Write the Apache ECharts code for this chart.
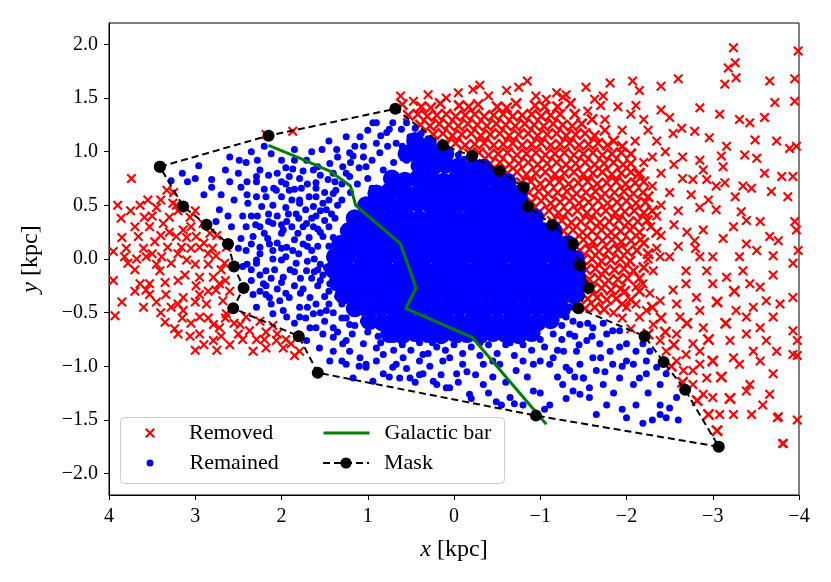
<!DOCTYPE html>
<html>
<head>
<meta charset="utf-8">
<script src="https://cdn.jsdelivr.net/npm/echarts@6.0.0/dist/echarts.min.js"></script>
<style>
  html, body { margin: 0; padding: 0; background: #fff; }
  #chart { width: 831px; height: 582px; }
</style>
</head>
<body>
<div id="chart"></div>
<script>
// axis ticks
var yTicks = [-2.0, -1.5, -1.0, -0.5, 0.0, 0.5, 1.0, 1.5, 2.0];

// remained stars, dense inner part (kpc)
var remainedCore = [
  [0.55,0.98],[0.40,0.99],[0.25,0.97],[0.10,0.98],[0.45,1.10],[0.30,1.05],
  [0.40,0.87],[0.25,0.85],[0.10,0.88],[-0.05,0.86],[-0.20,0.84],[-0.34,0.85],
  [0.72,0.75],[0.57,0.73],[0.42,0.75],[0.27,0.74],[0.12,0.72],[-0.03,0.75],[-0.18,0.74],[-0.33,0.73],[-0.48,0.74],[-0.62,0.72],
  [0.90,0.61],[0.75,0.63],[0.60,0.62],[0.45,0.60],[0.30,0.63],[0.15,0.62],[0.0,0.61],[-0.15,0.63],[-0.30,0.62],[-0.45,0.60],[-0.60,0.62],[-0.75,0.61],
  [1.02,0.50],[0.87,0.51],[0.72,0.49],[0.57,0.50],[0.42,0.52],[0.27,0.50],[0.12,0.49],[-0.03,0.51],[-0.18,0.50],[-0.33,0.49],[-0.48,0.51],[-0.63,0.50],[-0.78,0.49],
  [1.15,0.38],[1.0,0.39],[0.85,0.37],[0.70,0.38],[0.55,0.39],[0.40,0.37],[0.25,0.38],[0.10,0.39],[-0.05,0.37],[-0.20,0.38],[-0.35,0.39],[-0.50,0.38],[-0.65,0.37],[-0.80,0.38],[-0.94,0.39],
  [1.22,0.26],[1.07,0.27],[0.92,0.25],[0.77,0.26],[0.62,0.27],[0.47,0.25],[0.32,0.26],[0.17,0.27],[0.02,0.25],[-0.13,0.26],[-0.28,0.27],[-0.43,0.25],[-0.58,0.26],[-0.73,0.27],[-0.88,0.25],[-1.03,0.26],[-1.15,0.27],
  [1.32,0.14],[1.17,0.15],[1.02,0.13],[0.87,0.14],[0.72,0.15],[0.57,0.13],[0.42,0.14],[0.27,0.15],[0.12,0.13],[-0.03,0.14],[-0.18,0.15],[-0.33,0.13],[-0.48,0.14],[-0.63,0.15],[-0.78,0.13],[-0.93,0.14],[-1.08,0.15],[-1.22,0.13],[-1.32,0.14],
  [1.38,0.02],[1.23,0.03],[1.08,0.01],[0.93,0.02],[0.78,0.03],[0.63,0.01],[0.48,0.02],[0.33,0.03],[0.18,0.01],[0.03,0.02],[-0.12,0.03],[-0.27,0.01],[-0.42,0.02],[-0.57,0.03],[-0.72,0.01],[-0.87,0.02],[-1.02,0.03],[-1.17,0.01],[-1.31,0.02],[-1.41,0.0],
  [1.40,-0.10],[1.25,-0.09],[1.10,-0.11],[0.95,-0.10],[0.80,-0.09],[0.65,-0.11],[0.50,-0.10],[0.35,-0.09],[0.20,-0.11],[0.05,-0.10],[-0.10,-0.09],[-0.25,-0.11],[-0.40,-0.10],[-0.55,-0.09],[-0.70,-0.11],[-0.85,-0.10],[-1.0,-0.09],[-1.15,-0.11],[-1.30,-0.10],[-1.43,-0.09],
  [1.35,-0.22],[1.20,-0.23],[1.05,-0.21],[0.90,-0.22],[0.75,-0.23],[0.60,-0.21],[0.45,-0.22],[0.30,-0.23],[0.15,-0.21],[0.0,-0.22],[-0.15,-0.23],[-0.30,-0.21],[-0.45,-0.22],[-0.60,-0.23],[-0.75,-0.21],[-0.90,-0.22],[-1.05,-0.23],[-1.20,-0.21],[-1.35,-0.22],[-1.46,-0.24],
  [1.28,-0.34],[1.13,-0.35],[0.98,-0.33],[0.83,-0.34],[0.68,-0.35],[0.53,-0.33],[0.38,-0.34],[0.23,-0.35],[0.08,-0.33],[-0.07,-0.34],[-0.22,-0.35],[-0.37,-0.33],[-0.52,-0.34],[-0.67,-0.35],[-0.82,-0.33],[-0.97,-0.34],[-1.12,-0.35],[-1.27,-0.33],[-1.39,-0.34],
  [1.15,-0.46],[1.0,-0.47],[0.85,-0.45],[0.70,-0.46],[0.55,-0.47],[0.40,-0.45],[0.25,-0.46],[0.10,-0.47],[-0.05,-0.45],[-0.20,-0.46],[-0.35,-0.47],[-0.50,-0.45],[-0.65,-0.46],[-0.80,-0.47],[-0.95,-0.45],[-1.10,-0.46],[-1.25,-0.47],
  [0.98,-0.58],[0.83,-0.59],[0.68,-0.57],[0.53,-0.58],[0.38,-0.59],[0.23,-0.57],[0.08,-0.58],[-0.07,-0.59],[-0.22,-0.57],[-0.37,-0.58],[-0.52,-0.59],[-0.67,-0.57],[-0.82,-0.58],[-0.97,-0.59],[-1.12,-0.57],
  [0.75,-0.70],[0.60,-0.71],[0.45,-0.69],[0.30,-0.70],[0.15,-0.71],[0.0,-0.69],[-0.15,-0.70],[-0.30,-0.71],[-0.45,-0.69],[-0.60,-0.70],[-0.75,-0.71],[-0.90,-0.69]
];

// remained stars, sparser outer part
var remainedOuter = [
  [3.28,0.73],[3.09,0.72],[2.96,0.87],[2.81,0.74],[2.81,0.67],[2.65,0.83],[2.49,0.92],[2.41,0.90],[2.28,0.92],[2.25,0.83],[2.29,0.72],[2.47,0.67],
  [2.12,0.98],[2.00,0.92],[1.87,0.84],[1.85,0.92],[1.71,0.92],[1.63,0.83],[1.79,0.75],[2.00,0.72],[2.09,0.66],[1.91,0.64],[1.77,0.66],[1.60,0.66],
  [1.40,0.61],[1.53,1.02],[1.36,1.02],[1.25,1.14],[1.09,1.14],[1.05,1.05],[0.94,1.27],[0.71,1.27],[0.61,1.21],[0.78,1.18],[0.90,1.08],[0.77,1.05],
  [1.17,0.96],[1.29,0.86],[1.46,0.74],[1.40,0.80],[1.58,0.86],[2.29,0.58],[2.39,0.52],[2.18,0.58],[2.00,0.58],[2.10,0.50],[2.23,0.49],[2.35,0.40],
  [2.45,0.40],[2.62,0.40],[2.72,0.46],[2.76,0.35],[2.58,0.30],[2.41,0.30],[2.25,0.30],[2.10,0.33],[1.94,0.35],[1.83,0.42],[1.63,0.49],[1.79,0.55],
  [2.47,0.19],[2.33,0.21],[2.16,0.19],[2.00,0.24],[1.81,0.24],[1.63,0.30],[2.41,0.08],[2.25,0.11],[2.10,0.08],[1.94,0.11],[1.75,0.14],[2.45,-0.07],
  [2.29,-0.01],[2.18,-0.11],[2.00,-0.01],[1.83,-0.04],[2.35,-0.20],[2.18,-0.25],
  [2.33,-0.33],[2.18,-0.33],[2.02,-0.39],[2.29,-0.45],[2.10,-0.51],[1.94,-0.54],[1.79,-0.45],[1.63,-0.51],[1.67,-0.64],[1.52,-0.70],[1.40,-0.64],
  [1.56,-0.83],[1.40,-0.86],[1.25,-0.76],[1.25,-0.98],[1.09,-0.92],[1.02,-1.01],[0.90,-0.83],[0.71,-1.01],[0.63,-1.11],[0.40,-1.08],[0.24,-1.14],
  [0.09,-1.20],[1.44,-0.95],[1.71,-0.76],[1.17,-1.11],[0.94,-1.14],
  [1.21,-0.86],[1.02,-0.98],[0.82,-1.07],[0.67,-0.98],[0.51,-1.11],[0.36,-1.07],[0.20,-1.17],[0.05,-1.20],[-0.03,-1.07],[-0.18,-1.26],[-0.34,-1.17],
  [-0.49,-1.33],[-0.65,-1.29],[-0.80,-1.36],[-0.92,-1.23],[-1.11,-1.36],[-1.26,-1.17],[-1.46,-1.26],[-1.57,-1.20],[-1.50,-1.11],[-1.34,-1.04],
  [-1.11,-0.98],[-0.92,-0.98],[-0.72,-1.04],[-0.53,-0.98],[-0.34,-0.98],[-0.10,-0.98],[0.13,-0.95],[0.36,-0.89],[0.59,-0.92],[0.82,-0.89],[1.05,-0.79],
  [1.29,-0.79],[1.40,-0.73],[1.60,-0.64],[1.79,-0.54],[1.98,-0.48],[2.14,-0.36],[2.21,-0.23],[2.29,-0.04],[1.91,-0.36],[1.67,-0.36],[1.48,-0.48],
  [1.21,-0.61],[1.44,-0.23],[1.71,-0.11],[1.98,-0.17],[1.87,0.08],[2.14,0.14],[1.98,0.27],[1.71,0.33],[1.52,0.21],[1.48,0.46],[1.79,0.52],[2.06,0.64],
  [2.29,0.77],[1.91,0.77],[1.60,0.71],[1.37,0.64],[1.21,0.77],[1.44,0.89],[1.21,0.99],[1.02,0.86],[0.86,0.99],[0.67,1.08],[0.51,1.14],[0.36,1.05],
  [0.75,1.21],[0.90,1.27],[0.55,1.27],[0.38,1.17],[0.24,1.10],[0.05,1.00],[-0.12,0.93],[-0.32,0.86],[0.21,0.99],[0.59,0.96],[0.82,0.83],
  [-1.30,-0.54],[-1.46,-0.61],[-1.61,-0.64],[-1.77,-0.70],[-1.92,-0.67],[-2.00,-0.79],[-2.11,-0.86],[-2.23,-0.95],[-2.19,-0.79],[-2.00,-0.95],
  [-1.81,-0.86],[-1.61,-0.92],[-1.42,-0.86],[-1.30,-1.01],[-1.50,-1.11],[-1.73,-1.17],[-1.92,-1.11],[-2.08,-1.17],[-2.23,-1.07],[-2.39,-1.17],
  [-2.46,-1.07],[-2.39,-1.36],[-2.50,-1.39],[-2.58,-1.29],[-2.11,-1.36],[-2.00,-1.48],[-2.19,-1.53],[-1.77,-1.36],[-1.57,-1.29],[-1.38,-1.23],
  [-2.39,-1.45],[-2.46,-1.48],[-2.15,-1.11],[-2.35,-1.01],[-2.08,-0.98],[-1.84,-0.98],[-1.65,-1.04],[-1.46,-0.98],[-1.27,-0.86],[-1.34,-0.70],
  [-1.54,-0.76],[-1.73,-0.60],[-1.92,-0.82],[-2.27,-0.86],[-1.69,-0.79],[-1.84,-0.67],
  [0.45,1.22],[0.30,1.12],[0.12,1.03],[-0.05,0.97],[-0.25,0.90],[-0.45,0.82],[-0.62,0.74],[-0.76,0.66],[-0.82,0.56],[-0.86,0.46],[-1.00,0.38],
  [-1.10,0.30],[-1.22,0.22],[-1.33,0.12],[-1.40,0.03],[-1.45,-0.07],[-1.49,-0.16],[-1.52,-0.25],[-1.48,-0.34],[-1.42,-0.42],
  [1.50,0.36],[1.58,0.12],[1.55,-0.05],[1.62,0.00],[1.50,-0.35],[1.60,0.40],[1.45,0.55],[1.68,0.20],[1.52,-0.15],[1.40,-0.50],[1.30,-0.55],
  [1.20,0.62],[1.12,0.70],[1.00,0.75],[0.95,0.66],[1.05,0.95],[0.95,0.92],[0.70,0.90],[0.55,0.92],[0.48,0.98],[0.30,0.95],[0.40,1.05],[0.15,0.95],
  [1.10,0.85],[0.60,1.05],[1.00,-0.68],[0.88,-0.72],[0.60,-0.80],[0.40,-0.78],[0.20,-0.82],[0.0,-0.80],[-0.20,-0.82],[-0.40,-0.80],[-0.60,-0.80],
  [-0.80,-0.80],[-1.00,-0.75],[-1.15,-0.70],[-1.25,-0.62],[0.95,-0.62],[-0.10,-0.88],[0.30,-0.88],[-0.70,-0.90],[-1.20,-0.85],[-1.40,-0.72],
  [-1.55,-0.60],[-1.35,-0.45],[-1.38,-0.58],[-1.25,-0.75],[-1.45,-0.80],[-1.15,-0.92],[-1.60,-0.72],[-1.70,-0.92],
  [1.35,0.50],[1.42,0.42],[1.55,0.45],[1.68,0.58],[1.72,0.46],[1.88,0.55],[1.95,0.48],[2.05,0.40],[2.15,0.42],[2.28,0.40],[1.45,0.30],[1.58,0.28],
  [1.75,0.30],[1.88,0.30],[2.05,0.15],[2.20,0.24],[2.35,0.14],[2.50,0.10],[1.45,0.12],[1.65,0.08],[1.80,0.05],[1.95,0.02],[2.10,0.00],[2.40,-0.05],
  [1.48,-0.08],[1.62,-0.12],[1.78,-0.18],[1.90,-0.10],[2.08,-0.10],[2.25,-0.15],[1.45,-0.30],[1.58,-0.25],[1.75,-0.28],[1.85,-0.25],[2.05,-0.28],
  [2.25,-0.30],[1.60,-0.42],[1.72,-0.55],[1.85,-0.60],[1.50,-0.58],[1.35,-0.68],[1.30,-0.42],[1.70,0.70],[1.50,0.62],[1.30,0.70],[1.55,0.78],
  [1.75,0.82],[1.95,0.85],[2.15,0.78],[1.35,0.95],[1.20,0.90],[1.65,1.00],[1.85,1.02],[1.45,1.10],[1.15,1.05],[1.00,1.20],[0.85,1.15],[2.40,0.60],
  [2.55,0.55],[2.60,0.72],[2.70,0.60],[2.90,0.60],[3.00,0.75],[3.15,0.80],[2.35,1.00],[2.20,1.05],[2.60,0.95],
  [0.90,-0.95],[0.75,-1.10],[0.55,-1.02],[0.45,-1.15],[0.28,-1.00],[0.15,-1.08],[-0.05,-1.15],[-0.25,-1.08],[-0.40,-1.25],[-0.45,-1.10],
  [-0.60,-1.15],[-0.70,-1.35],[-0.85,-1.10],[-1.00,-1.25],[-1.20,-1.10],[-1.05,-1.40],[-1.30,-1.30],[-1.65,-1.45],[-1.85,-1.25],[-1.95,-1.40],
  [-2.25,-1.25],[-2.30,-1.50],[-2.60,-1.50],[-1.95,-1.00],[-1.40,-1.10],[-1.75,-1.05],[-0.30,-0.90],[0.05,-0.92],[0.70,-0.85],[1.10,-1.00],
  [1.30,-0.95],[-0.20,-1.30],[-0.55,-1.36],
  [1.38,0.38],[1.52,0.52],[1.65,0.38],[1.80,0.38],[1.92,0.42],[2.00,0.32],[2.15,0.35],[2.30,0.32],[1.40,0.20],[1.55,0.25],[1.70,0.12],[1.85,0.18],
  [2.00,0.10],[2.25,0.05],[2.35,-0.10],[1.42,0.00],[1.58,-0.10],[1.70,-0.02],[1.85,-0.12],[2.00,-0.22],[2.12,-0.18],[1.40,-0.18],[1.55,-0.20],
  [1.65,-0.18],[1.78,-0.32],[1.95,-0.32],[2.12,-0.42],[1.35,-0.35],[1.45,-0.42],[1.55,-0.50],[1.70,-0.45],[1.25,-0.55],[1.15,-0.62],[1.05,-0.58],
  [1.18,-0.70],[1.30,0.55],[1.25,0.80],[1.38,0.72],[1.60,0.58],[1.85,0.65],[2.20,0.65],[2.40,0.72],[2.50,0.80],[1.95,0.70],[2.05,0.80],
  [0.85,-0.78],[0.70,-0.75],[0.50,-0.85],[0.25,-0.78],[0.10,-0.85],[-0.05,-0.75],[-0.30,-0.78],[-0.50,-0.88],[-0.65,-0.78],[-0.90,-0.85],
  [-1.05,-0.82],[-1.00,-0.95],[-0.80,-0.95],[-0.45,-0.95],[-0.15,-1.05],[0.40,-0.95]
];

// removed stars, dense band just outside the mask
var removedBand = [
  [0.60,1.44],[0.38,1.42],[0.16,1.45],[-0.06,1.43],[-0.28,1.44],[-0.50,1.42],[-0.72,1.45],[-0.94,1.43],[0.27,1.41],[-0.17,1.42],[-0.61,1.41],[-1.05,1.42],
  [0.53,1.34],[0.42,1.35],[0.31,1.33],[0.20,1.34],[0.09,1.35],[-0.02,1.33],[-0.13,1.34],[-0.24,1.35],[-0.35,1.33],[-0.46,1.34],[-0.57,1.35],[-0.68,1.33],[-0.79,1.34],[-0.90,1.35],[-1.01,1.33],[-1.12,1.34],[-1.23,1.35],
  [0.39,1.25],[0.28,1.24],[0.17,1.26],[0.06,1.25],[-0.05,1.24],[-0.16,1.26],[-0.27,1.25],[-0.38,1.24],[-0.49,1.26],[-0.60,1.25],[-0.71,1.24],[-0.82,1.26],[-0.93,1.25],[-1.04,1.24],[-1.15,1.26],[-1.26,1.25],[-1.37,1.24],[-1.48,1.26],
  [0.24,1.16],[0.13,1.17],[0.02,1.15],[-0.09,1.16],[-0.20,1.17],[-0.31,1.15],[-0.42,1.16],[-0.53,1.17],[-0.64,1.15],[-0.75,1.16],[-0.86,1.17],[-0.97,1.15],[-1.08,1.16],[-1.19,1.17],[-1.30,1.15],[-1.41,1.16],[-1.52,1.17],[-1.63,1.15],
  [0.09,1.07],[-0.02,1.08],[-0.13,1.06],[-0.24,1.07],[-0.35,1.08],[-0.46,1.06],[-0.57,1.07],[-0.68,1.08],[-0.79,1.06],[-0.90,1.07],[-1.01,1.08],[-1.12,1.06],[-1.23,1.07],[-1.34,1.08],[-1.45,1.06],[-1.56,1.07],[-1.67,1.08],[-1.78,1.06],
  [-0.18,0.98],[-0.29,0.99],[-0.40,0.97],[-0.51,0.98],[-0.62,0.99],[-0.73,0.97],[-0.84,0.98],[-0.95,0.99],[-1.06,0.97],[-1.17,0.98],[-1.28,0.99],[-1.39,0.97],[-1.50,0.98],[-1.61,0.99],[-1.72,0.97],[-1.83,0.98],[-1.94,0.99],
  [-0.42,0.89],[-0.53,0.90],[-0.64,0.88],[-0.75,0.89],[-0.86,0.90],[-0.97,0.88],[-1.08,0.89],[-1.19,0.90],[-1.30,0.88],[-1.41,0.89],[-1.52,0.90],[-1.63,0.88],[-1.74,0.89],[-1.85,0.90],[-1.96,0.88],[-2.05,0.89],
  [-0.62,0.80],[-0.73,0.81],[-0.84,0.79],[-0.95,0.80],[-1.06,0.81],[-1.17,0.79],[-1.28,0.80],[-1.39,0.81],[-1.50,0.79],[-1.61,0.80],[-1.72,0.81],[-1.83,0.79],[-1.94,0.80],[-2.05,0.81],[-2.14,0.79],
  [-0.78,0.71],[-0.89,0.72],[-1.00,0.70],[-1.11,0.71],[-1.22,0.72],[-1.33,0.70],[-1.44,0.71],[-1.55,0.72],[-1.66,0.70],[-1.77,0.71],[-1.88,0.72],[-1.99,0.70],[-2.10,0.71],[-2.20,0.72],
  [-0.87,0.62],[-0.98,0.63],[-1.09,0.61],[-1.20,0.62],[-1.31,0.63],[-1.42,0.61],[-1.53,0.62],[-1.64,0.63],[-1.75,0.61],[-1.86,0.62],[-1.97,0.63],[-2.08,0.61],[-2.19,0.62],
  [-0.90,0.53],[-1.01,0.54],[-1.12,0.52],[-1.23,0.53],[-1.34,0.54],[-1.45,0.52],[-1.56,0.53],[-1.67,0.54],[-1.78,0.52],[-1.89,0.53],[-2.00,0.54],[-2.11,0.52],[-2.22,0.53],
  [-0.99,0.44],[-1.10,0.45],[-1.21,0.43],[-1.32,0.44],[-1.43,0.45],[-1.54,0.43],[-1.65,0.44],[-1.76,0.45],[-1.87,0.43],[-1.98,0.44],[-2.09,0.45],[-2.20,0.43],
  [-1.14,0.35],[-1.25,0.36],[-1.36,0.34],[-1.47,0.35],[-1.58,0.36],[-1.69,0.34],[-1.80,0.35],[-1.91,0.36],[-2.02,0.34],[-2.13,0.35],[-2.24,0.36],
  [-1.27,0.26],[-1.38,0.27],[-1.49,0.25],[-1.60,0.26],[-1.71,0.27],[-1.82,0.25],[-1.93,0.26],[-2.04,0.27],[-2.15,0.25],
  [-1.39,0.17],[-1.50,0.18],[-1.61,0.16],[-1.72,0.17],[-1.83,0.18],[-1.94,0.16],[-2.05,0.17],[-2.16,0.18],
  [-1.46,0.08],[-1.57,0.09],[-1.68,0.07],[-1.79,0.08],[-1.90,0.09],[-2.01,0.07],[-2.12,0.08],
  [-1.49,-0.01],[-1.60,0.00],[-1.71,-0.02],[-1.82,-0.01],[-1.93,0.00],[-2.04,-0.02],
  [-1.53,-0.10],[-1.64,-0.09],[-1.75,-0.11],[-1.86,-0.10],[-1.97,-0.09],[-2.08,-0.11],
  [-1.57,-0.19],[-1.68,-0.18],[-1.79,-0.20],[-1.90,-0.19],[-2.01,-0.18],
  [-1.60,-0.28],[-1.71,-0.27],[-1.82,-0.29],[-1.93,-0.28],
  [-1.55,-0.37],[-1.66,-0.36],[-1.77,-0.38],[-1.88,-0.37],
  [-1.52,-0.46],[-1.63,-0.45],[-1.74,-0.47],
  [-1.98,-0.30],[-2.05,-0.38],[-1.95,-0.42],[-2.15,-0.30],[-2.30,-0.45],[-2.40,-0.55],[-2.25,-0.70],[-2.45,-0.68],[-2.55,-0.80],[-2.52,-1.00],
  [-2.65,-1.15],[-2.82,-1.32],[-2.95,-1.45],[-3.05,-1.60],[-3.20,-1.30],[-3.10,-1.10],[-3.00,-0.95],[-2.70,-0.60],[-2.95,-0.75],[-3.15,-0.60],
  [-3.05,-0.40],[-3.25,-0.30],
  [-1.75,1.20],[-1.85,1.10],[-1.95,1.05],[-2.05,0.98],[-1.60,1.30],[-1.40,1.35],[-1.35,1.45],[-1.20,1.42],[-2.15,0.80],[-2.25,0.58],[-2.30,0.45],
  [-2.35,0.25],[-2.20,0.15],[-2.25,0.05],[-2.20,-0.08],[-2.15,-0.18]
];

// removed stars, scattered further out
var removedOuter = [
  [0.62,1.52],[0.47,1.47],[0.30,1.53],[0.09,1.50],[-0.05,1.55],[-0.22,1.58],[-0.40,1.52],[-0.61,1.57],[-0.85,1.66],[-0.95,1.52],[-1.07,1.49],
  [-1.19,1.55],[-1.26,1.51],[-1.30,1.53],[-1.53,1.60],[-1.73,1.52],[-1.81,1.64],[-2.07,1.66],[-2.15,1.57],[-2.40,1.61],[-2.60,1.68],[-2.11,1.43],
  [-2.40,1.39],[-2.50,1.32],[-2.85,1.41],[-3.08,1.35],[-3.31,1.30],[-3.43,1.27],[-3.60,1.32],[-3.24,1.97],[-3.26,1.83],[-3.18,1.78],[-3.27,1.69],
  [-3.14,1.63],[-3.66,1.66],[-3.95,1.68],[-3.99,1.94],[-3.72,1.46],[-3.95,1.47],[-1.63,1.49],[-0.75,1.60],[-0.30,1.62],
  [-2.79,1.19],[-2.96,1.13],[-3.16,1.05],[-3.49,1.11],[-3.74,1.10],[-3.89,1.03],[-3.97,1.05],[-3.37,0.97],[-3.51,0.94],[-3.10,0.96],[-3.12,0.86],
  [-2.89,0.83],[-3.60,0.80],[-3.80,0.77],[-3.93,0.77],[-3.68,0.63],[-3.87,0.58],[-3.35,0.68],[-3.45,0.66],[-3.14,0.71],[-3.04,0.46],[-3.26,0.58],
  [-3.39,0.36],[-3.55,0.35],[-3.95,0.35],[-3.76,0.17],[-3.66,0.21],[-3.39,0.14],[-3.12,0.19],[-2.89,0.27],[-2.79,0.17],[-3.24,0.30],[-3.99,0.08],
  [-3.51,0.08],[-3.33,0.44],[-3.04,0.68],[-2.93,0.74],[-2.77,0.74],[-2.64,1.22],[-2.54,1.17],[-2.25,1.20],[-2.35,1.10],[-2.45,1.00],[-2.30,0.95],
  [-2.55,0.88],[-2.40,0.80],[-2.65,0.75],[-2.30,0.68],[-2.50,0.62],[-2.75,0.60],[-2.40,0.50],[-2.60,0.45],[-2.85,0.48],[-2.35,0.40],[-2.55,0.32],
  [-2.70,0.25],[-2.40,0.22],[-2.60,0.12],[-2.35,0.10],[-2.80,0.10],[-2.50,0.02],[-2.95,0.55],[-2.65,0.95],[-2.85,0.92],[-2.20,1.30],[-2.05,1.35],
  [-1.90,1.42],[-1.70,1.43],[-1.55,1.38],[-1.75,1.30],[-1.95,1.20],[-2.10,1.10],[-2.20,0.90],[-2.28,0.30],[-2.25,0.0],
  [-2.11,-0.42],[-2.23,-0.48],[-2.15,-0.54],[-2.31,-0.61],[-2.39,-0.76],[-2.46,-0.86],[-2.58,-0.95],[-2.66,-1.04],[-2.77,-1.17],[-2.89,-1.26],
  [-3.00,-1.29],[-3.08,-1.45],[-3.24,-1.45],[-3.45,-1.45],[-3.76,-1.47],[-3.82,-1.72],[-3.58,-1.36],[-3.66,-1.26],[-3.39,-1.23],[-3.43,-1.17],
  [-3.31,-0.98],[-3.55,-0.95],[-3.70,-1.07],[-3.47,-0.86],[-3.24,-0.92],[-3.20,-0.76],[-3.39,-0.70],[-3.62,-0.76],[-3.74,-0.86],[-3.93,-0.89],
  [-3.93,-0.67],[-3.70,-0.54],[-3.55,-0.64],[-3.47,-0.45],[-3.39,-0.54],[-3.62,-0.39],[-3.78,-0.42],[-3.93,-0.36],[-3.43,-0.23],[-3.70,-0.15],
  [-3.35,-0.11],[-3.55,-0.26],[-3.27,-0.48],[-2.85,-0.86],[-2.69,-0.89],[-2.85,-0.98],[-2.93,-1.11],[-2.77,-1.04],[-2.58,-0.70],[-2.77,-0.79],
  [-2.89,-0.64],[-2.62,-0.54],[-2.39,-0.39],[-2.54,-0.29],[-2.69,-0.23],[-2.81,-0.36],[-2.85,-0.48],[-3.00,-0.23],[-3.16,-0.17],[-2.93,-0.11],
  [-2.69,-0.11],[-2.85,0.02],[-3.00,0.02],[-3.31,0.02],[-3.70,0.03],[-3.93,-0.04],[-2.31,-0.11],[-2.19,-0.23],[-2.39,0.02],[-2.27,-0.32],
  [-2.11,-0.26],[-2.58,-0.42],[-3.81,-1.72],[-3.75,-1.48],[-3.98,-0.76],[-3.98,-0.90],[-3.98,-1.50],[-3.97,0.27],[-1.95,-0.55],[-2.00,-0.45],
  [-1.85,-0.50],[-2.05,-0.65],
  [3.74,0.75],[3.95,0.07],[3.82,0.02],[3.86,0.38],[3.64,0.50],[3.59,0.39],[3.53,0.30],[3.66,0.21],[3.47,0.16],[3.37,0.33],[3.30,0.39],[3.22,0.21],
  [3.16,0.11],[3.32,0.11],[3.39,0.02],[3.28,-0.04],[3.10,-0.01],[2.95,0.11],[2.99,0.21],[2.83,0.24],[2.76,0.03],[2.66,-0.04],[2.64,0.11],[3.12,-0.15],
  [2.95,-0.17],[3.53,-0.23],[3.26,0.52],[3.33,0.64],[3.06,0.39],[3.14,0.27],[2.91,0.33],[3.78,-0.04],[3.57,0.02],[3.41,-0.11],[2.79,-0.17],[2.72,-0.23],
  [1.87,1.19],[2.18,1.16],[3.93,-0.53],[3.57,-0.29],[3.53,-0.33],[3.34,-0.33],[3.14,-0.36],[3.28,-0.45],[3.14,-0.48],[3.35,-0.59],[3.24,-0.65],
  [3.06,-0.72],[2.95,-0.70],[2.79,-0.76],[2.79,-0.61],[2.95,-0.54],[2.87,-0.42],[2.95,-0.33],[2.76,-0.29],[2.68,-0.39],[2.64,-0.51],[2.72,-0.64],
  [2.37,-0.67],[2.29,-0.75],[2.18,-0.68],[2.06,-0.76],[1.98,-0.83],[2.33,-0.86],[2.18,-0.83],[1.79,-0.86],[1.89,-0.79],[2.48,-0.61],[2.41,-0.54],
  [2.25,-0.58],[2.10,-0.62],[2.99,-0.25],[3.64,-0.23],[3.45,0.48],[3.55,0.55],[3.20,0.45],[3.05,0.30],[3.40,0.22],[3.60,0.10],[3.70,-0.10],
  [3.00,-0.05],[2.85,-0.05],[3.20,-0.20],[3.35,-0.22],[2.85,-0.55],[3.05,-0.60],[3.15,-0.55],[2.90,-0.80],[2.70,-0.72],[2.55,-0.60],[2.45,-0.75],
  [2.60,-0.80],[2.20,-0.75],[2.05,-0.70],[1.95,-0.75],[1.85,-0.90],[2.70,-0.10],[2.60,-0.30],[2.75,0.22],[3.00,0.45],[3.25,0.62],[3.85,0.20],[3.90,0.50],
  [3.75,0.45],[3.70,0.30],[3.80,0.10],[3.68,0.00],[3.50,0.05],[3.45,-0.05],[3.30,0.25],[3.10,0.20],[3.20,0.05],[3.05,0.10],[2.90,0.15],[2.80,0.10],
  [3.50,0.40],[3.40,0.55],[3.22,0.50],[3.45,-0.40],[3.60,-0.45],[3.20,-0.70],[3.00,-0.85],[2.75,-0.85],[2.50,-0.70],[2.65,-0.55],[2.85,-0.30],
  [2.65,-0.20],[2.85,0.05],[3.00,-0.40],[3.20,-0.42],[3.40,-0.50],[3.70,-0.30],[3.95,-0.20],[3.85,-0.40]
];

// galactic bar
var barLine = [[2.15,1.06],[1.79,0.94],[1.44,0.82],[1.20,0.68],[1.14,0.50],[0.62,0.14],[0.44,-0.27],[0.56,-0.46],[-0.21,-0.73],[-1.07,-1.54]];

// mask polygon (closed)
var maskLine = [
  [3.41,0.86],[2.15,1.15],[0.68,1.40],[0.13,1.06],[-0.21,0.96],[-0.53,0.82],[-0.81,0.67],[-0.86,0.49],[-1.14,0.32],[-1.38,0.14],
  [-1.46,-0.06],[-1.56,-0.27],[-1.44,-0.46],[-2.21,-0.72],[-2.43,-0.96],[-2.68,-1.22],[-3.07,-1.75],[-0.95,-1.46],[1.58,-1.06],[1.80,-0.72],
  [2.56,-0.46],[2.44,-0.27],[2.55,-0.07],[2.62,0.14],[2.87,0.32],[3.14,0.49],[3.41,0.86]
];

var FONT = 'Liberation Serif';
var crossPath = 'path://M1.5,0L5,3.5L8.5,0L10,1.5L6.5,5L10,8.5L8.5,10L5,6.5L1.5,10L0,8.5L3.5,5L0,1.5Z';

function minus(v, d) {
  var s = d ? Math.abs(v).toFixed(d) : String(Math.abs(v));
  return (v < 0 ? '\u2212' : '') + s;
}

var myChart = echarts.init(document.getElementById('chart'), null, { renderer: 'canvas' });

function legendText(pad) {
  return { fontFamily: FONT, fontSize: 22, color: '#000', padding: [0, 0, 0, pad] };
}
var legendBase = { orient: 'vertical', padding: 0, selectedMode: false };

var nameStyle = {
  fontFamily: FONT, fontSize: 24, color: '#000',
  rich: { i: { fontFamily: FONT, fontSize: 24, fontStyle: 'italic', color: '#000' } }
};

var option = {
  animation: false,
  backgroundColor: '#fff',
  grid: { left: 109, right: 32, top: 23, bottom: 87, show: true, borderColor: '#000', borderWidth: 1, outerBoundsMode: 'none' },
  xAxis: {
    type: 'value', min: -4, max: 4, interval: 1, inverse: true,
    name: '{i|x} [kpc]', nameLocation: 'middle', nameGap: 43, nameTextStyle: nameStyle,
    axisLine: { show: true, onZero: false, lineStyle: { color: '#000', width: 1 } },
    axisTick: { show: true, inside: false, length: 5, lineStyle: { color: '#000', width: 1 } },
    axisLabel: { fontFamily: FONT, fontSize: 20, color: '#000', margin: 12, formatter: function (v) { return minus(v); } },
    splitLine: { show: false }
  },
  yAxis: {
    type: 'value', min: -2.2, max: 2.2,
    name: '{i|y} [kpc]', nameLocation: 'middle', nameGap: 66, nameTextStyle: nameStyle,
    axisLine: { show: true, onZero: false, lineStyle: { color: '#000', width: 1 } },
    axisTick: { show: true, inside: false, length: 5, customValues: yTicks, lineStyle: { color: '#000', width: 1 } },
    axisLabel: { fontFamily: FONT, fontSize: 20, color: '#000', margin: 11, customValues: yTicks, formatter: function (v) { return minus(v, 1); } },
    splitLine: { show: false }
  },
  legend: [
    Object.assign({}, legendBase, { left: 145, top: 422, itemWidth: 10, itemHeight: 10, textStyle: legendText(29),
      data: [{ name: 'Removed', icon: crossPath }] }),
    Object.assign({}, legendBase, { left: 146.5, top: 452, itemWidth: 7, itemHeight: 7, textStyle: legendText(31),
      data: [{ name: 'Remained', icon: 'circle' }] }),
    Object.assign({}, legendBase, { left: 322, top: 422, itemWidth: 46, itemHeight: 14, textStyle: legendText(10),
      itemStyle: { color: 'rgba(0,0,0,0)', opacity: 0 }, lineStyle: { width: 3, color: '#008000' }, data: ['Galactic bar'] }),
    Object.assign({}, legendBase, { left: 322, top: 452, itemWidth: 46, itemHeight: 14, textStyle: legendText(10),
      lineStyle: { width: 2 }, data: ['Mask'] })
  ],
  graphic: [{
    type: 'rect', z: 3, silent: true,
    shape: { x: 120.5, y: 417.5, width: 384, height: 66, r: 4 },
    style: { fill: 'rgba(255,255,255,0.8)', stroke: '#cccccc', lineWidth: 1 }
  }],
  series: [
    { name: 'Removed', type: 'scatter', data: removedOuter, symbol: crossPath, symbolSize: 10, silent: true,
      itemStyle: { color: '#ff0000', opacity: 1 } },
    { name: 'Removed', type: 'scatter', data: removedBand, symbol: crossPath, symbolSize: 12, silent: true,
      itemStyle: { color: '#ff0000', opacity: 1 } },
    { name: 'Remained', type: 'scatter', data: remainedOuter, symbol: 'circle', symbolSize: 7, silent: true,
      itemStyle: { color: '#0000ff', opacity: 1 } },
    { name: 'Remained', type: 'scatter', data: remainedCore, symbol: 'circle', symbolSize: 18, silent: true,
      itemStyle: { color: '#0000ff', opacity: 1 } },
    { name: 'Galactic bar', type: 'line', data: barLine, symbol: 'none', silent: true,
      lineStyle: { color: '#008000', width: 3 }, itemStyle: { color: '#008000' } },
    { name: 'Mask', type: 'line', data: maskLine, symbol: 'circle', symbolSize: 12, showSymbol: true, silent: true,
      lineStyle: { color: '#000', width: 2, type: [7, 4] }, itemStyle: { color: '#000' } }
  ]
};

myChart.setOption(option);
</script>
</body>
</html>
